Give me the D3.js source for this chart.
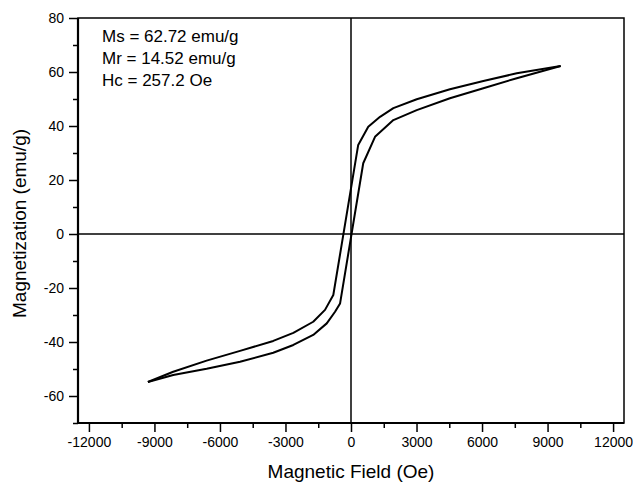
<!DOCTYPE html>
<html>
<head>
<meta charset="utf-8">
<script src="https://cdn.jsdelivr.net/npm/d3@7"></script>
<style>
  body { margin: 0; background: #fff; }
  svg { display: block; }
  text { font-family: "Liberation Sans", Arial, Helvetica, sans-serif; fill: #000; }
</style>
</head>
<body>
<svg id="chart" width="633" height="482"></svg>
<script>
// descending branch (from +saturation), field in Oe, magnetization in emu/g
var downField = [9600, 7590, 6060, 4530, 3010, 1940, 1330, 790, 330, -810, -1190, -1730, -2640, -3560, -5080, -6610, -8140, -9300];
var downMag   = [62.2, 59.5, 56.7, 53.6, 49.9, 46.6, 43.4, 39.7, 33.0, -22.6, -28.1, -32.5, -36.6, -39.6, -43.3, -46.9, -51.0, -54.8];

// ascending branch (from -saturation)
var upField = [-9300, -8140, -6610, -5080, -3560, -2640, -1730, -1110, -730, -500, 560, 1100, 1940, 3010, 4530, 6060, 7590, 9600];
var upMag   = [-54.8, -52.2, -49.9, -47.3, -44.0, -41.1, -37.4, -33.1, -28.8, -25.7, 26.2, 36.0, 42.2, 45.9, 50.3, 54.0, 57.7, 62.2];

var xTicks = [-12000, -9000, -6000, -3000, 0, 3000, 6000, 9000, 12000];
var xMinor = [-10500, -7500, -4500, -1500, 1500, 4500, 7500, 10500];
var yTicks = [-60, -40, -20, 0, 20, 40, 60, 80];
var yMinor = [-70, -50, -30, -10, 10, 30, 50, 70];

var notes = ["Ms = 62.72 emu/g", "Mr = 14.52 emu/g", "Hc = 257.2 Oe"];

var svg = d3.select("#chart");
var margin = {top: 18, right: 9, bottom: 59, left: 78};
var width = 633 - margin.left - margin.right;
var height = 482 - margin.top - margin.bottom;

var g = svg.append("g").attr("transform", "translate(" + margin.left + "," + margin.top + ")");

var x = d3.scaleLinear().domain([-12500, 12500]).range([0, width]);
var y = d3.scaleLinear().domain([-70, 80]).range([height, 0]);

//minor ticks first so major ones sit on top
g.append("g")
  .attr("transform", "translate(0," + height + ")")
  .call(d3.axisBottom(x).tickValues(xMinor).tickSize(5).tickSizeOuter(0).tickFormat(""))
  .call(function(a){ a.select(".domain").remove(); });
g.append("g")
  .call(d3.axisLeft(y).tickValues(yMinor).tickSize(5).tickSizeOuter(0).tickFormat(""))
  .call(function(a){ a.select(".domain").remove(); });

var xAxis = g.append("g")
  .attr("transform", "translate(0," + height + ")")
  .call(d3.axisBottom(x).tickValues(xTicks).tickSize(9).tickPadding(5).tickSizeOuter(0)
    .tickFormat(function(d){ return String(d); }));
xAxis.select(".domain").remove();

var yAxis = g.append("g")
  .call(d3.axisLeft(y).tickValues(yTicks).tickSize(9).tickPadding(5).tickSizeOuter(0)
    .tickFormat(function(d){ return String(d); }));
yAxis.select(".domain").remove();

g.selectAll(".tick line").attr("stroke", "#000").attr("stroke-width", 1.5);
g.selectAll(".tick text").style("font-size", "14px")
  .style("font-family", '"Liberation Sans", Arial, Helvetica, sans-serif');

//frame
g.append("rect")
  .attr("width", width).attr("height", height)
  .attr("fill", "none").attr("stroke", "#000").attr("stroke-width", 1.5);
g.append("line")
  .attr("x1", 0).attr("x2", 0).attr("y1", 0).attr("y2", height)
  .attr("stroke", "#000").attr("stroke-width", 2.2);
g.append("line")
  .attr("x1", 0).attr("x2", width).attr("y1", height).attr("y2", height)
  .attr("stroke", "#000").attr("stroke-width", 2.2);

//zero lines
g.append("line")
  .attr("x1", 0).attr("x2", width).attr("y1", y(0)).attr("y2", y(0))
  .attr("stroke", "#000").attr("stroke-width", 1.5);
g.append("line")
  .attr("x1", x(0)).attr("x2", x(0)).attr("y1", 0).attr("y2", height)
  .attr("stroke", "#000").attr("stroke-width", 1.5);

//loop
var line = d3.line()
  .x(function(d){ return x(d[0]); })
  .y(function(d){ return y(d[1]); });

var down = d3.zip(downField, downMag);
var up = d3.zip(upField, upMag);

g.append("path").datum(down)
  .attr("d", line).attr("fill", "none")
  .attr("stroke", "#000").attr("stroke-width", 2).attr("stroke-linejoin", "round");
g.append("path").datum(up)
  .attr("d", line).attr("fill", "none")
  .attr("stroke", "#000").attr("stroke-width", 2).attr("stroke-linejoin", "round");

//annotation
g.selectAll(".note").data(notes).enter()
  .append("text")
  .attr("class", "note")
  .attr("x", 24)
  .attr("y", function(d, i){ return 24 + i * 22; })
  .style("font-size", "17px")
  .text(function(d){ return d; });

//axis titles
svg.append("text")
  .attr("x", margin.left + x(0))
  .attr("y", 478)
  .attr("text-anchor", "middle")
  .style("font-size", "19px")
  .text("Magnetic Field (Oe)");

svg.append("text")
  .attr("transform", "translate(26," + (margin.top + height / 2 + 3) + ") rotate(-90)")
  .attr("text-anchor", "middle")
  .style("font-size", "19px")
  .text("Magnetization (emu/g)");
</script>
</body>
</html>
